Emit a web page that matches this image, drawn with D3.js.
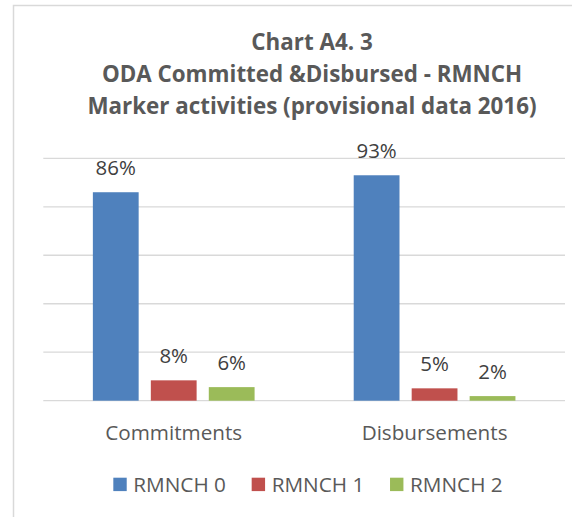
<!DOCTYPE html>
<html>
<head>
<meta charset="utf-8">
<script src="https://cdn.jsdelivr.net/npm/d3@7"></script>
<style>
  html, body { margin: 0; padding: 0; background: #fff; }
  svg { display: block; font-family: "Open Sans", sans-serif; }
</style>
</head>
<body>
<svg id="chart" width="572" height="517"></svg>
<script>
// ---- data ----
const titleLines = ["Chart A4. 3", "ODA Committed &Disbursed - RMNCH", "Marker activities (provisional data 2016)"];
const categories = ["Commitments", "Disbursements"];
const seriesNames = ["RMNCH 0", "RMNCH 1", "RMNCH 2"];
const seriesColors = ["#4F81BD", "#C0504D", "#9BBB59"];
const rmnch0 = [0.860, 0.930];
const rmnch1 = [0.084, 0.051];
const rmnch2 = [0.056, 0.019];
const yTicks = [0, 0.2, 0.4, 0.6, 0.8, 1.0];

const seriesValues = [rmnch0, rmnch1, rmnch2];

const svg = d3.select("#chart");

// size a font so that a sample text reaches a target width
function fitSize(sample, target, base, weight) {
  const t = svg.append("text").attr("font-size", base).attr("font-weight", weight || "normal").text(sample);
  const w = t.node().getComputedTextLength();
  t.remove();
  return base * target / w;
}
const titleSize = fitSize(titleLines[1], 420.6, 22, "bold");
const labelSize = fitSize("Commitments", 137, 20);
const legendSize = fitSize("RMNCH 0", 92.7, 20);
const dataSize = fitSize("86%", 40.3, 20);

// outer border of chart area
svg.append("rect")
  .attr("x", 13.5).attr("y", 5.5)
  .attr("width", 700).attr("height", 700)
  .attr("fill", "#fff").attr("stroke", "#d9d9d9").attr("stroke-width", 1.5);

// title
const titleY = [50, 82, 114];
svg.append("g").selectAll("text").data(titleLines).join("text")
  .attr("x", 312).attr("y", (d, i) => titleY[i])
  .attr("text-anchor", "middle")
  .attr("font-size", titleSize).attr("font-weight", "bold")
  .attr("fill", "#595959")
  .text(d => d);

// scales
const plotLeft = 43.3, plotRight = 565, plotTop = 158.3, plotBottom = 400.7;
const x0 = d3.scaleBand().domain(categories).range([plotLeft, plotRight]).padding(0);
const groupFrac = 0.62;
const x1 = d3.scaleBand().domain(seriesNames)
  .range([0, x0.bandwidth() * groupFrac]).paddingInner(0.21).paddingOuter(0);
const y = d3.scaleLinear().domain([0, 1]).range([plotBottom, plotTop]);

// gridlines
svg.append("g").selectAll("line").data(yTicks).join("line")
  .attr("x1", plotLeft).attr("x2", plotRight)
  .attr("y1", d => y(d)).attr("y2", d => y(d))
  .attr("stroke", "#d9d9d9").attr("stroke-width", 1.3);

// bars
const rows = [];
categories.forEach((c, ci) => {
  seriesNames.forEach((s, si) => {
    rows.push({ cat: c, series: s, color: seriesColors[si], value: seriesValues[si][ci] });
  });
});
const groupOffset = x0.bandwidth() * (1 - groupFrac) / 2;
const bx = d => x0(d.cat) + groupOffset + x1(d.series);

svg.append("g").selectAll("rect").data(rows).join("rect")
  .attr("x", bx)
  .attr("y", d => y(d.value))
  .attr("width", x1.bandwidth())
  .attr("height", d => y(0) - y(d.value))
  .attr("fill", d => d.color);

// data labels
const fmt = d3.format(".0%");
svg.append("g").selectAll("text").data(rows).join("text")
  .attr("x", d => bx(d) + x1.bandwidth() / 2)
  .attr("y", d => y(d.value) - 17.5)
  .attr("text-anchor", "middle")
  .attr("font-size", dataSize)
  .attr("fill", "#404040")
  .text(d => fmt(d.value));

// category axis labels
svg.append("g").selectAll("text").data(categories).join("text")
  .attr("x", d => x0(d) + x0.bandwidth() / 2)
  .attr("y", 439.5)
  .attr("text-anchor", "middle")
  .attr("font-size", labelSize)
  .attr("fill", "#595959")
  .text(d => d);

// legend
const legend = svg.append("g");
const items = legend.selectAll("g").data(seriesNames).join("g");
items.append("rect")
  .attr("width", 13.4).attr("height", 13.4)
  .attr("y", 477.7)
  .attr("fill", (d, i) => seriesColors[i]);
items.append("text")
  .attr("x", 20).attr("y", 491.5)
  .attr("font-size", legendSize).attr("fill", "#595959")
  .text(d => d);
const widths = [];
items.each(function () { widths.push(this.getBBox().width); });
const gap = 25.7;
const total = d3.sum(widths) + gap * (widths.length - 1);
let cx = 308 - total / 2;
items.each(function (d, i) {
  d3.select(this).attr("transform", `translate(${cx},0)`);
  cx += widths[i] + gap;
});
</script>
</body>
</html>
